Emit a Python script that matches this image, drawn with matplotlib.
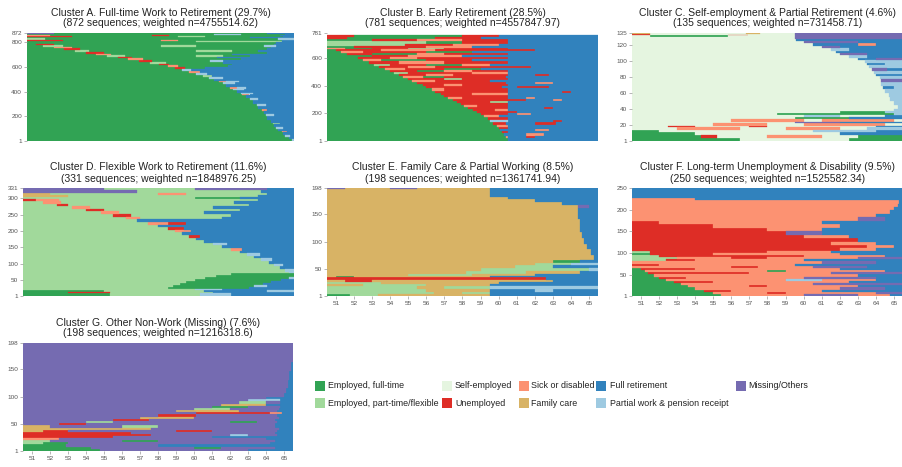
import re
import matplotlib
matplotlib.use("Agg")
import matplotlib.pyplot as plt
from matplotlib.patches import Rectangle

plt.rcParams["font.family"] = ["Liberation Sans", "DejaVu Sans"]

# states: code, legend label, colour
state_codes = ["F", "P", "S", "U", "D", "C", "R", "W", "M"]
state_labels = ["Employed, full-time", "Employed, part-time/flexible", "Self-employed",
                "Unemployed", "Sick or disabled", "Family care", "Full retirement",
                "Partial work & pension receipt", "Missing/Others"]
state_colors = ["#31a354", "#a1d99b", "#e5f5e0", "#de2d26", "#fc9272",
                "#d8b365", "#3182bd", "#9ecae1", "#756bb1"]

ages = list(range(51, 66))

# each sequence string: state code followed by the age it ends at (last one runs to the end)
a_counts = [13, 20, 12, 25, 10, 20, 12, 25, 10, 25, 28, 15, 30, 10, 30, 12, 36,
            15, 20, 10, 10, 20, 15, 15, 20, 15, 15, 15, 15, 15, 20, 15, 15, 15,
            15, 12, 15, 12, 15, 12, 15, 12, 15, 12, 15, 12, 15, 12, 13,
            10, 8, 10, 8, 10, 8, 10, 8]
a_seqs = ["F65.4W", "F65.2R", "F65.0W65.3R", "F64.9R", "F64.8D65.1R", "F64.6R",
          "F64.5W64.9R", "F64.4R", "F64.3P64.7R", "F64.2R", "F64.0R", "F63.9W64.4R",
          "F63.8R", "F63.7D64.0R", "F63.5R", "F63.4W63.9R", "F63.2R",
          "F63.0W63.5R", "F62.8R", "F62.6D63.0R", "F62.5W63.2R", "F62.3R",
          "F62.1W62.7R", "F61.9D62.3W62.8R", "F61.7R", "F61.5W62.2R",
          "F61.3D61.7W62.4R", "F61.0R", "F60.7W61.5R", "F60.4P60.9R",
          "F60.0W60.6R", "F59.6D60.2R", "F59.2W59.7R", "F58.8U59.4F60.5R",
          "F58.4D59.0F61.8R", "F57.9U58.5F62.0R", "F57.4P58.3F61.5R",
          "F56.8U57.5F60.8W61.5R", "F56.2D57.0F62.5R", "F55.6U56.4F61.2R",
          "F55.0P56.0F60.0P61.5F63.0R", "F54.4D55.2F62.0R", "F53.8U54.8F64.0R",
          "F53.2P54.0F60.0P62.0F63.5R", "F52.6U53.5F64.0R", "F52.0D53.0F64.2R",
          "F51.4P52.5F58.0P60.0F63.8W64.5R", "F51.0U52.0F64.4R", "F64.5R",
          "F60.0P64.8R", "U52.5F58.0D59.0F64.8R", "P51.5F64.6W", "F63.0R",
          "U53.0F59.0P60.5F64.9R", "D51.8F57.5U58.5F64.7R", "F61.0W62.5F65.0R",
          "M52.0F64.0R"]

b_counts = [20, 15, 20, 15, 15, 15, 15, 20, 15, 20, 15, 15,
            15, 15, 15, 15, 15, 15, 15, 15, 15, 15, 15, 15, 15, 15, 15, 15, 15,
            15, 15, 15, 15, 15, 15, 15, 15, 15, 15, 15, 15, 15, 15,
            10, 10, 20, 15, 15, 15, 16]
b_seqs = ["F60.5R", "F60.4D60.5R61.5U62.0R", "F60.3R61.5D62.5R", "F60.2U60.5R",
          "F60.1R62.0D62.8R", "F60.0U60.5R", "F59.9D60.5R", "F59.7U60.4R62.0U63.2R",
          "F59.5W60.5R63.0U63.5R", "F59.4U60.5R", "F59.2D60.0R", "F59.0U60.5R61.0D61.8R",
          "F58.8U61.0R", "F58.6U59.8D60.5R", "F58.3U60.5R62.5U63.0R", "F58.1D58.8U60.5R",
          "F57.9U60.5R", "F57.7U59.5P60.5R", "F57.5U61.5R63.0D63.5R",
          "F57.2D58.0U60.5R61.5D62.0R",
          "F57.0U60.5R", "F56.8U58.5D60.5R", "F56.5U60.5R63.5U64.0R", "F56.3D57.0U60.5R",
          "F56.0U60.2R61.0U62.8R", "F55.8U57.0D58.0U60.5R", "F55.5U60.4R62.0D63.0R",
          "F55.2D56.5U59.5R",
          "F55.0U57.0P58.0U60.5R", "F54.7D55.8F57.0U60.4R", "F54.5U56.0D57.5U60.5R62.0U62.8R",
          "F54.2P55.0U58.5D60.5R", "F54.0U55.5F57.0D58.5U60.5R", "F53.7D54.8U57.0F59.0R",
          "F53.4U55.0D56.5U61.8R", "F53.1P54.0U56.0F58.0D59.5R", "F52.8U54.5D57.0U60.5R",
          "F52.5D53.5F56.0U58.5R", "F52.2U54.0D55.5U60.5R", "F53.0U55.0D58.0R",
          "F51.6U53.0F55.5D57.0U60.5R", "F51.3D52.5U56.0F58.5R", "F51.0U53.5D56.5U62.0R",
          "D51.5F53.0U55.0P57.0U60.5R", "F52.0U56.0D58.5R", "P54.8U57.5D60.0R",
          "P56.0F58.0U60.5R", "F53.0U55.5D58.0U60.5R", "U51.6F56.5U59.0R", "U52.0F58.0U60.0R"]

c_counts = [4, 4, 3, 3, 3, 2, 3, 2, 3, 3, 2, 3, 3, 2, 5, 5, 5, 5, 5, 4, 5, 3, 4,
            3, 4, 3, 4, 3, 3, 3, 3, 3, 3, 3, 3, 3, 3, 3, 2, 2, 1, 1, 1]
c_seqs = ["F56.5S62.5F", "F54.3U55.2S58.0D61.0S63.0F", "F54.0S62.0R", "F52.0S60.5W64.0R",
          "S53.0D56.5S59.0D62.0S63.5W", "S52.5U54.0S57.0U58.0S64.0R", "S55.0D58.0S60.0D64.5S",
          "S59.5M62.0R", "S56.0D60.0S61.0D65.0S", "S59.5F62.5R", "S60.0W62.0S64.5R",
          "S58.5F65.0W", "S62.0F64.5W", "S65.0W", "S65.2W", "S65.0W", "S64.8W", "S64.7W",
          "S64.5W", "S64.4R65.0W", "S64.3W", "S64.3M", "S64.2W", "S64.0R", "S63.9W",
          "S63.8M64.6R", "S63.6W", "S63.5R64.5W", "S63.4W", "S63.0R64.0M", "S62.5W63.5R",
          "S62.0M63.5R", "S61.8R", "S61.5W62.5R", "S61.0M62.0R", "S60.5R63.0D64.0R",
          "S60.0M63.0R", "S59.6R", "S59.5M", "S51.5F55.8S59.5M", "S51.5F55.8U56.9S59.5M",
          "U51.5S59.5M", "C51.5S56.8C57.6S59.5M"]

d_counts = [8, 5, 5, 4, 6, 6, 6, 6, 6, 6, 6, 6, 5, 8, 8, 8, 8, 8, 8, 8, 8, 8, 8, 8, 8,
            8, 8, 8, 8, 8, 8, 8, 8, 8, 8, 8, 8, 8, 8, 8, 6, 6, 8, 6, 7, 7]
d_seqs = ["F55.3P60.3W62.0R", "F53.0U55.3P61.0R", "F55.0P60.5R64.0W", "P60.0W61.5R",
          "P58.5F63.0R", "P58.8F63.3W64.0R", "P59.2F63.8R", "P59.5F64.2R",
          "P60.0F64.8R", "P60.6F65.2W", "P61.2F", "P62.0F", "P65.2W",
          "P65.0W", "P64.7R", "P64.4W64.9R", "P64.1R", "P63.7W64.3R", "P63.3R",
          "P62.9W63.6R", "P62.5R", "P62.0D62.6R", "P61.5R", "P61.0W61.8R", "P60.5R",
          "P60.1R", "P59.7U60.3R", "P59.3R", "P58.9D59.8R", "P58.5U59.4R", "P58.0R",
          "P57.4D58.5U59.5R", "P56.8R", "P56.2D57.0P61.5R", "P55.5U56.5P62.0R",
          "P54.8D55.8P60.5R", "P54.0U55.0P62.5R", "P53.2D54.2P61.0R", "P52.4U53.0P63.0R",
          "P51.6D52.6P62.2R", "U51.2D52.5P63.5R", "P60.0F62.5R", "C53.0P63.5R",
          "C52.0P58.0D59.5P64.0R", "M56.8P63.7R", "M55.0P60.0M64.0R"]

e_counts = [4, 4, 5, 5, 4, 4, 3, 5, 3, 4, 5, 5, 5, 5, 5, 10, 10, 10, 10,
            12, 24, 20, 5, 5, 5, 5, 15, 1]
e_seqs = ["F51.8P53.3C59.5R", "P56.4C58.0P59.5R", "P56.0C59.5R62.0W63.0R",
          "P55.5C57.0P59.5W", "C52.5P56.0C59.5R", "P53.5C60.0R", "C51.5U53.0C63.0R",
          "U62.6R", "C51.0F52.0C59.5R", "C55.0P58.5C62.0R", "C58.2P61.5C64.5R",
          "C59.0P65.0W", "C60.9P63.0R", "C62.0P64.0W", "C63.0F64.5R",
          "C65.3R", "C65.1R", "C64.9R", "C64.7R", "C64.6R", "C64.5R", "C64.4R",
          "C64.4M65.0R", "C63.5R", "C62.0R", "C60.5R", "C59.5R", "M51.5C54.0M55.5C59.5R"]

f_counts = [5, 5, 5, 5, 5, 5, 5, 5, 5, 5, 5, 5, 5, 5, 5, 5, 5, 5, 5, 5, 5, 5,
            8, 8, 8, 8, 8, 8, 8, 8, 8, 8, 8, 8, 8, 8, 4, 24]
f_seqs = ["F55.4D60.0M63.0D64.8R", "F55.0D58.0U59.0D64.0M", "F54.5U56.0D61.0R",
          "F54.0D62.0M64.5R", "F53.6D57.0U58.0D63.0R", "F53.2D60.5M", "F52.8U55.0D62.5R",
          "F52.4D59.0W61.0D64.0R", "F52.0U53.5D60.0M64.0R", "F51.7D63.0R",
          "F51.4U57.0D61.5M", "F51.2D58.0F59.0D64.5R", "F51.0U54.0D62.0R",
          "D56.0U57.5D60.5M63.5R", "U52.0D59.5R", "D61.0M64.0R", "P52.4U54.0D60.0R",
          "P53.0D56.0U58.0D63.0M", "P52.0U60.0D64.5R", "F51.5U55.0D62.0R",
          "P51.5U58.0D61.5R", "U62.0D64.0R", "U63.5D65.0R", "U61.5D64.0R", "U63.0R",
          "U60.0D62.5R", "U59.0M61.0R", "U58.0D61.0R", "U55.0D62.0R", "U52.0D61.0R",
          "D63.0M64.5R", "D64.0R", "D64.8R", "D65.0R", "D65.2R", "D65.3R", "D54.0R", "R"]

g_counts = [4, 4, 4, 4, 4, 3, 4, 4, 4, 4, 4, 4, 4, 4, 4, 4, 4, 4, 4, 4, 4,
            4, 4, 4, 4, 8, 8, 16, 16, 16, 35]
g_seqs = ["F54.8M63.0R", "F54.3M60.0F61.5M64.5R", "F52.9M58.0R", "P51.6F53.0M64.2R",
          "P52.0M56.0F58.0M64.5R", "D52.5M64.0R", "U55.5M61.0R", "U57.6M62.0W63.0M64.6R",
          "U56.5M64.5R", "C51.6U53.0M59.0U61.0M64.6R", "C57.6M64.7R", "C52.0M56.0P58.0M64.5R",
          "M52.5U54.0M64.5R", "M54.0P55.5M62.0F63.5M64.6R", "M55.5U57.5M64.5R",
          "M57.0C60.0M64.7R", "M58.0U60.1M64.6R", "M60.1U64.2D64.9R", "M59.0C62.5M64.6R",
          "M60.0P62.0M64.7R", "M61.0F63.0M64.8R", "M61.5C64.0R", "M62.5P64.0M64.8R",
          "M63.0W64.8R", "M64.0R", "M65.0R", "M65.1R", "M65.2R", "M65.3R", "M65.4R", "M"]

cluster_titles = ["Cluster A. Full-time Work to Retirement (29.7%)",
                  "Cluster B. Early Retirement (28.5%)",
                  "Cluster C. Self-employment & Partial Retirement (4.6%)",
                  "Cluster D. Flexible Work to Retirement (11.6%)",
                  "Cluster E. Family Care & Partial Working (8.5%)",
                  "Cluster F. Long-term Unemployment & Disability (9.5%)",
                  "Cluster G. Other Non-Work (Missing) (7.6%)"]
cluster_sizes = [872, 781, 135, 331, 198, 250, 198]
cluster_weighted = ["4755514.62", "4557847.97", "731458.71", "1848976.25",
                    "1361741.94", "1525582.34", "1216318.6"]
cluster_yticks = [[1, 200, 400, 600, 800, 872],
                  [1, 200, 400, 600, 781],
                  [1, 20, 40, 60, 80, 100, 120, 135],
                  [1, 50, 100, 150, 200, 250, 300, 331],
                  [1, 50, 100, 150, 198],
                  [1, 50, 100, 150, 200, 250],
                  [1, 50, 100, 150, 198]]
cluster_counts = [a_counts, b_counts, c_counts, d_counts, e_counts, f_counts, g_counts]
cluster_seqs = [a_seqs, b_seqs, c_seqs, d_seqs, e_seqs, f_seqs, g_seqs]

W, H = 903, 467
# plot boxes in pixels: left, top, right, bottom
panel_boxes = [(27, 33, 294, 141), (327, 33, 598, 141), (632, 33, 903, 141),
               (23, 188, 294, 296), (327, 188, 598, 296), (632, 188, 903, 296),
               (23, 343, 293, 451)]
show_xaxis = [False, False, False, False, True, True, True]

color_of = dict(zip(state_codes, state_colors))


def parse_seq(s):
    segs = []
    start = 50.5
    for code, end in re.findall(r"([A-Z])([\d.]*)", s):
        stop = float(end) if end else 65.5
        segs.append((code, start, stop))
        start = stop
    return segs


fig = plt.figure(figsize=(W / 100, H / 100), dpi=100)

for k in range(7):
    x0, y0, x1, y1 = panel_boxes[k]
    ax = fig.add_axes([x0 / W, 1 - y1 / H, (x1 - x0) / W, (y1 - y0) / H])

    # gather bars per state, stacking sequence groups from the bottom
    bars = {c: ([], [], [], []) for c in state_codes}
    row = 0
    for n, s in zip(cluster_counts[k], cluster_seqs[k]):
        for code, start, stop in parse_seq(s):
            ys, ws, ls, hs = bars[code]
            ys.append(row)
            ws.append(stop - start)
            ls.append(start)
            hs.append(n)
        row += n
    for code in state_codes:
        ys, ws, ls, hs = bars[code]
        if ys:
            ax.barh(ys, ws, left=ls, height=hs, align="edge", color=color_of[code],
                    edgecolor=color_of[code], linewidth=0.2)

    n_seq = cluster_sizes[k]
    ax.set_xlim(50.5, 65.5)
    ax.set_ylim(0, n_seq)
    ax.set_yticks([v - 0.5 for v in cluster_yticks[k]])
    ax.set_yticklabels([str(v) for v in cluster_yticks[k]])
    if show_xaxis[k]:
        ax.set_xticks(ages)
        ax.set_xticklabels([str(a) for a in ages])
    else:
        ax.set_xticks([])
    ax.tick_params(length=2, width=0.5, color="#999999", labelsize=4.6,
                   labelcolor="#555555", pad=1.5)
    for sp in ax.spines.values():
        sp.set_visible(False)

    cx = (x0 + x1) / 2 / W
    fig.text(cx, 1 - (y0 - 20.5) / H, cluster_titles[k], ha="center", va="center",
             fontsize=7.5, color="#222222")
    fig.text(cx, 1 - (y0 - 9.5) / H,
             "(%d sequences; weighted n=%s)" % (n_seq, cluster_weighted[k]),
             ha="center", va="center", fontsize=7.5, color="#222222")

# legend: five columns, two rows, filled column by column
legend_cols = [(315, 328), (442, 455), (519, 531), (596, 610), (736, 748)]
legend_rows = [386, 403]
for i, (label, color) in enumerate(zip(state_labels, state_colors)):
    col, r = divmod(i, 2)
    sx, tx = legend_cols[col]
    ty = legend_rows[r]
    fig.patches.append(Rectangle((sx / W, 1 - (ty + 5) / H), 10 / W, 10 / H,
                                 transform=fig.transFigure, facecolor=color,
                                 edgecolor="none"))
    fig.text(tx / W, 1 - ty / H, label, ha="left", va="center", fontsize=6.4,
             color="#222222")

fig.savefig("out.png", dpi=100)
